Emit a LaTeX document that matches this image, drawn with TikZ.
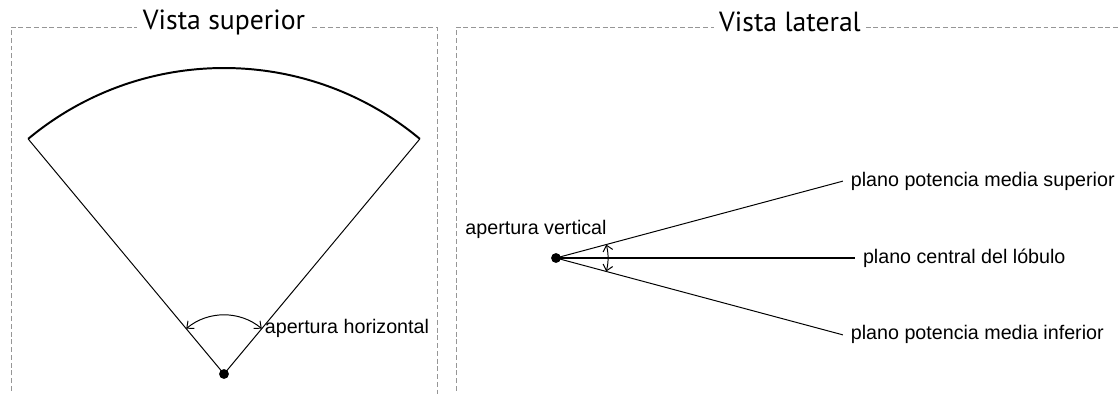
\documentclass[tikz,border=0pt]{standalone}
\usepackage{fontspec}
\setmainfont{Liberation Sans}
\newfontfamily\titlefont{PT Sans}
\usetikzlibrary{positioning, calc, arrows.meta}
\definecolor{boxgray}{RGB}{150,150,150}
\tikzset{
    viewbox/.style={
        draw=boxgray, line width=0.7pt, dash pattern=on 3.5pt off 2pt
    },
    viewtitle/.style={
        fill=white, inner xsep=4pt, inner ysep=1pt,
        font=\titlefont\fontsize{19.7}{22}\selectfont
    },
    lbl/.style={
        font=\fontsize{14}{16}\selectfont, inner sep=0pt
    },
    apexdot/.style={
        circle, fill=black, minimum size=7pt, inner sep=0pt
    }
}

\begin{document}
\begin{tikzpicture}[
        x=0.025cm, y=0.025cm,
        % lineas del haz
        beamline/.style={line width=0.7pt},
        % flechas de apertura
        aperture/.style={
            {Straight Barb[length=4pt,width=7pt]}-{Straight Barb[length=4pt,width=7pt]},
            line width=0.7pt
        }
    ]
    \useasboundingbox (0,0) rectangle (1118,394);
    \clip (0,0) rectangle (1118,394);

        % --- 1. CUADROS ---
        \draw[viewbox] (11,-20) rectangle (437,367);
        \draw[viewbox] (456,-20) rectangle (1140,367);
        \node[viewtitle] (tSup) at (224,372) {Vista superior};
        \node[viewtitle] (tLat) at (790,372) {Vista lateral};

        % --- 2. VISTA SUPERIOR ---
        \node[apexdot] (apexS) at (224,20) {};
        \coordinate (cornerL) at ($(apexS)+(129.8:306)$);
        \coordinate (cornerR) at ($(apexS)+(50.2:306)$);
        \draw[beamline] (cornerL) -- (apexS.center) -- (cornerR);
        \draw[line width=1.4pt] (cornerR) arc[start angle=50.2, end angle=129.8, radius=306];

        \coordinate (hArcR) at ($(apexS)+(50.2:59)$);
        \draw[aperture] (hArcR) arc[start angle=50.2, end angle=129.8, radius=59];
        \node[lbl, right=2pt of hArcR] (lblHor) {apertura horizontal};

        % --- 3. VISTA LATERAL ---
        \node[apexdot] (apexL) at (556,136) {};
        \coordinate (centEnd) at ($(apexL)+(299,0)$);
        \coordinate (supEnd) at ($(apexL)+(15:297)$);
        \coordinate (infEnd) at ($(apexL)+(-15:297)$);
        \draw[line width=2pt] (apexL.center) -- (centEnd);
        \draw[beamline] (apexL.center) -- (supEnd);
        \draw[beamline] (apexL.center) -- (infEnd);

        \node[lbl, right=5.5pt of supEnd] (lblSup) {plano potencia media superior};
        \node[lbl, right=5.5pt of centEnd] (lblCen) {plano central del lóbulo};
        \node[lbl, right=5.5pt of infEnd] (lblInf) {plano potencia media inferior};

        \coordinate (vArcB) at ($(apexL)+(-15:52)$);
        \draw[aperture] (vArcB) arc[start angle=-15, end angle=15, radius=52];
        \node[lbl] (lblVer) at (536,165) {apertura vertical};

\end{tikzpicture}
\end{document}
